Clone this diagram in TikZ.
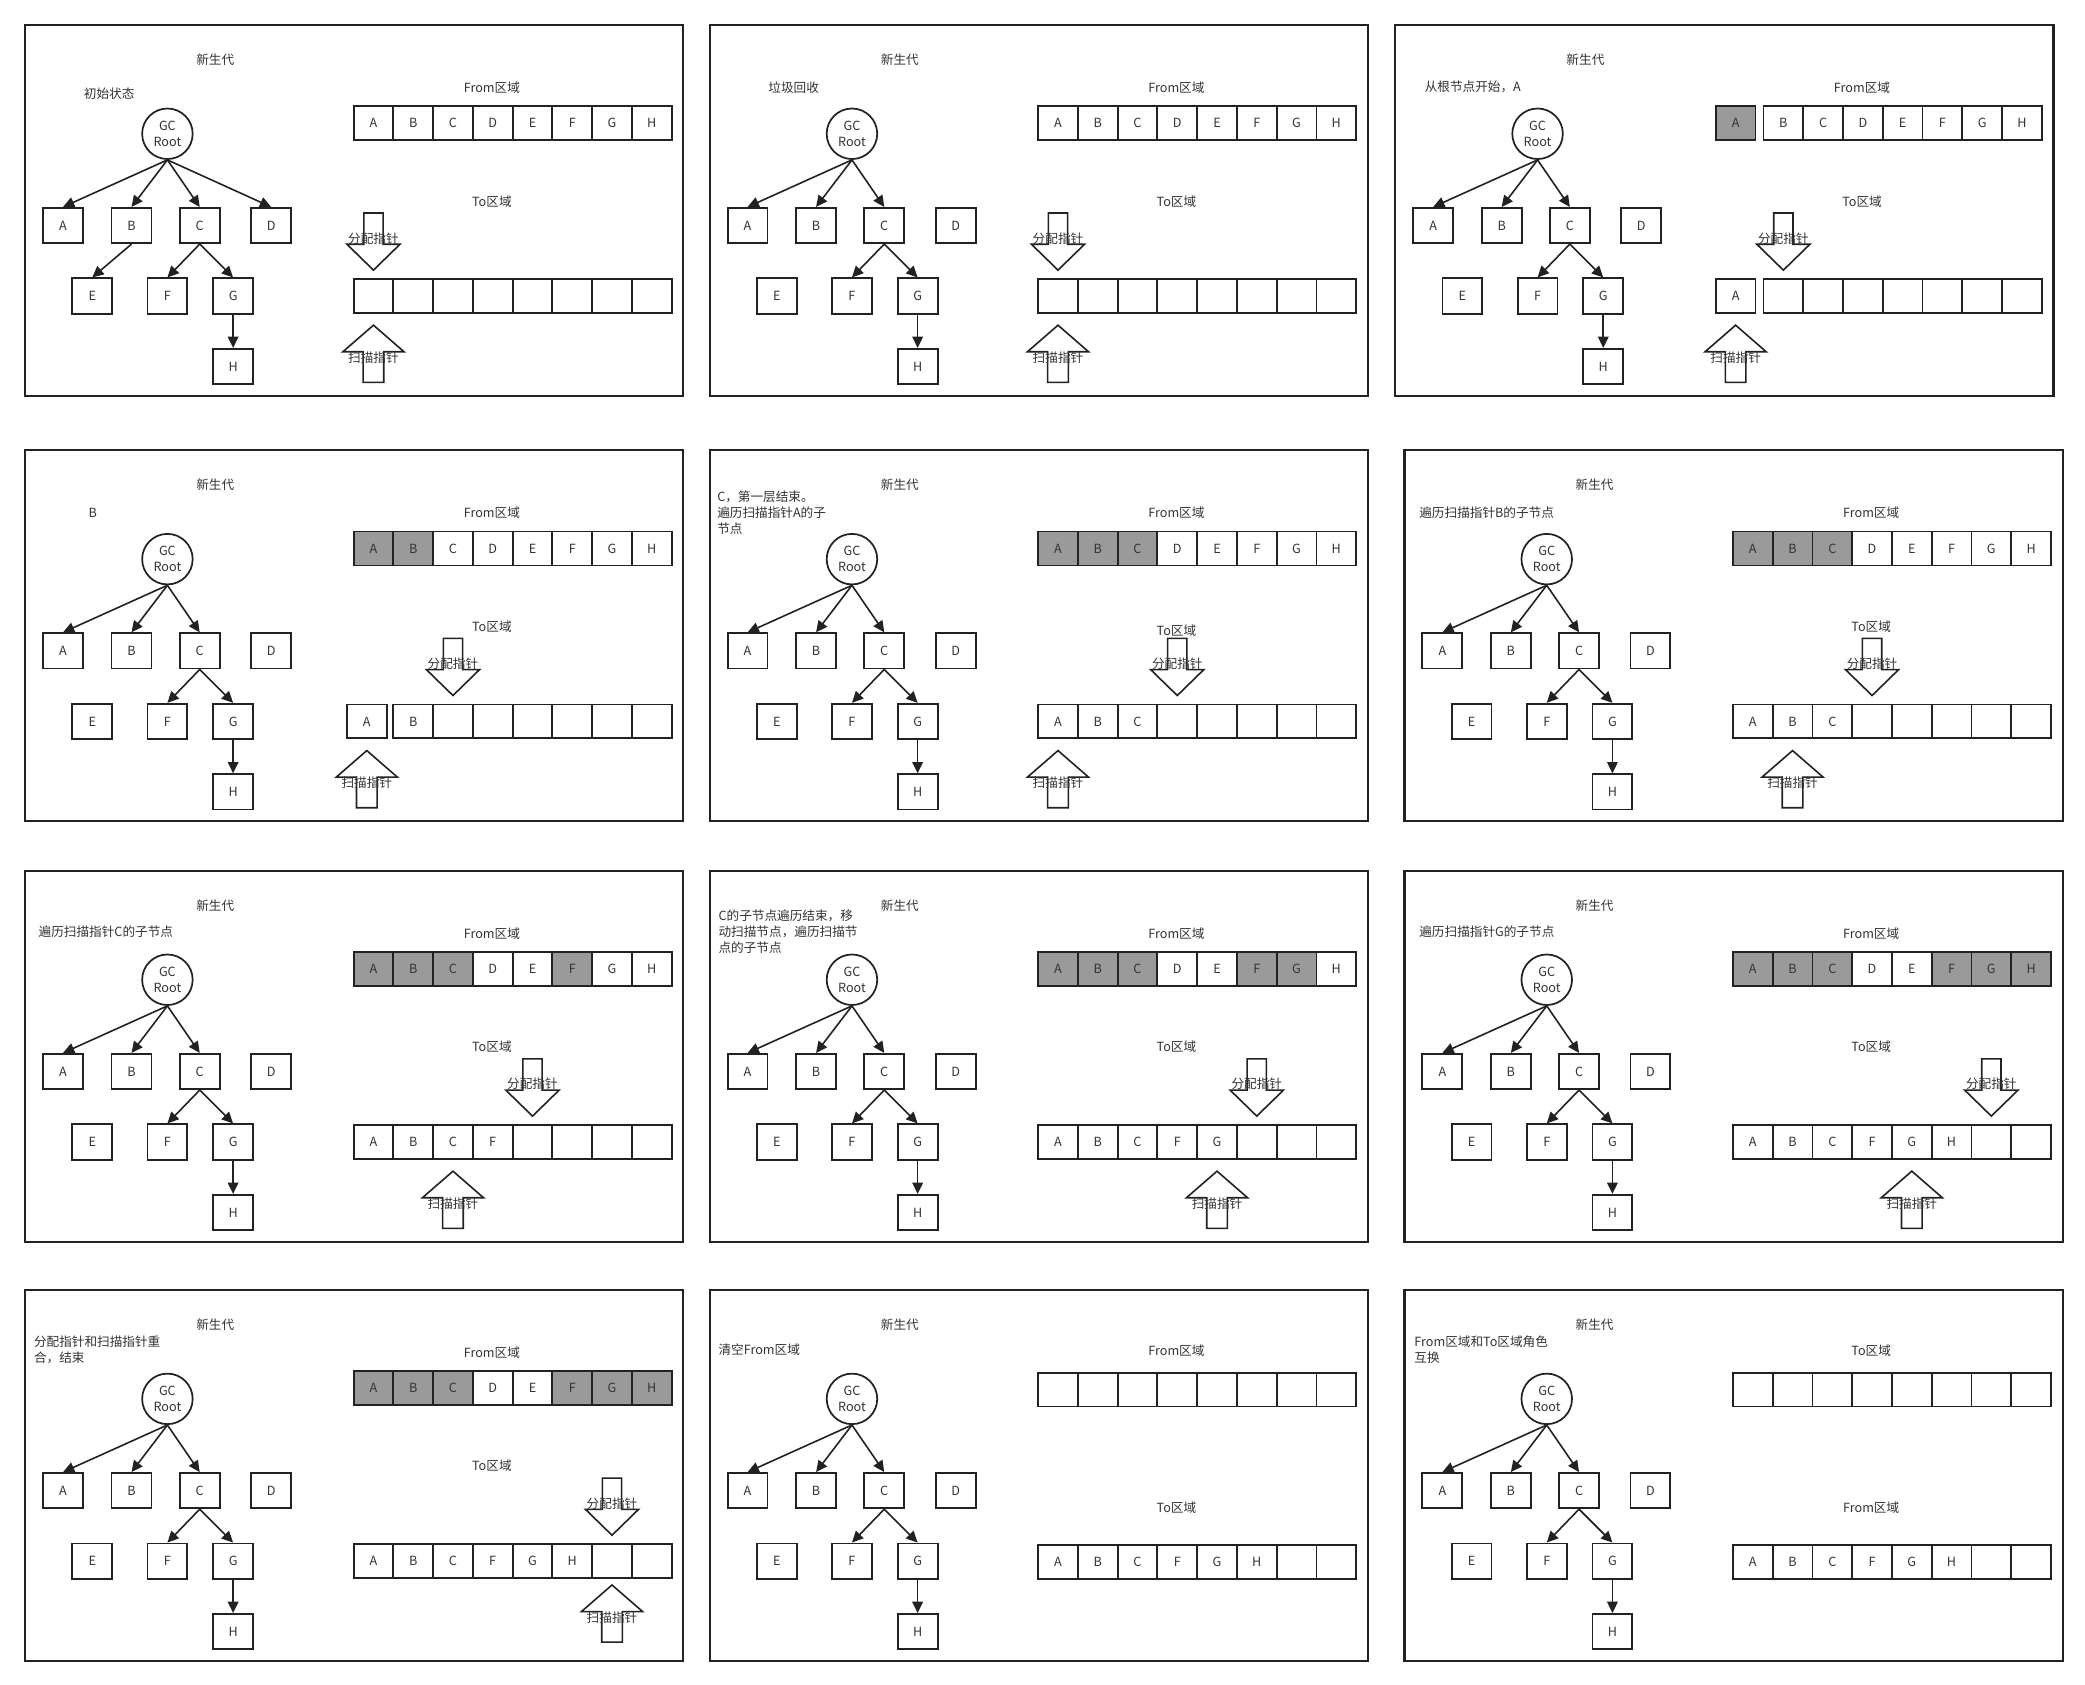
\documentclass[tikz,border=0pt]{standalone}
\usepackage{fontspec}
\setmainfont{Noto Sans CJK SC}
\usetikzlibrary{arrows.meta,positioning}

\definecolor{inkgray}{HTML}{333333}
\definecolor{framegray}{HTML}{222222}
\definecolor{livegray}{HTML}{9A9A9A}
\newcommand{\txtfont}{\fontsize{9.5}{12}\selectfont}

% 8 cells of one area: #1 name, #2 y, #3 label/fill, #4 gap before cell 2
\newcommand{\memrow}[4]{%
  \foreach \lab/\fil [count=\k] in {#3}
    \node[cell, cell\fil] (#1\k) at ({261.95+(\k-1)*29.9-(\k==1)*#4}, #2) {\lab};
}

% object graph
\newcommand{\gctree}[1]{%
  \node[root] (#1gc) at (107,82) {GC\\Root};
  \foreach \obj/\x/\y in {A/28.5/151, B/80/151, C/131.3/151, D/185/151,
                          E/50.5/204, F/107/204, G/156.4/204, H/156.4/257}
    \node[obj] (#1\obj) at (\x,\y) {\obj};
  \draw[link] (#1gc.south) -- (#1A.north);
  \draw[link] (#1gc.south) -- (#1B.north);
  \draw[link] (#1gc.south) -- (#1C.north);
  \draw[link] (#1C.south) -- (#1F.north);
  \draw[link] (#1C.south) -- (#1G.north);
  \draw[link] (#1G.south) -- (#1H.north);
}

\newcommand{\panelbase}[1]{%
  \draw[panelframe] (0,0) rectangle (495,279);
  \node[txt] (#1title) at (143,26) {新生代};
  \gctree{#1}
}

\tikzset{
  allocptr/.pic={
    \draw[ptr] (0,0) -- (-20,-19.5) -- (-7.25,-19.5) -- (-7.25,-43)
      -- (7.25,-43) -- (7.25,-19.5) -- (20,-19.5) -- cycle;
    \node[txt] (-text) at (0,-24) {分配指针};
  },
  scanptr/.pic={
    \draw[ptr] (0,0) -- (-23,20) -- (-7.75,20) -- (-7.75,43)
      -- (7.75,43) -- (7.75,20) -- (23,20) -- cycle;
    \node[txt] (-text) at (0,24.5) {扫描指针};
  }
}

\begin{document}
\begin{tikzpicture}[x=1pt, y=-1pt,
  panelframe/.style={draw=framegray, line width=1.7pt},
  txt/.style={inner sep=0pt, text=inkgray, font=\txtfont},
  obj/.style={draw=framegray, line width=1.4pt, fill=white, minimum width=30pt, minimum height=26.5pt, inner sep=0pt, text=inkgray, font=\txtfont},
  root/.style={draw=framegray, circle, line width=1.3pt, minimum size=38pt, inner sep=0pt, align=center, text=inkgray, font=\txtfont},
  cell/.style={draw=framegray, line width=1.4pt, minimum width=29.9pt, minimum height=25.5pt, inner sep=0pt, text=inkgray, font=\txtfont},
  cellg/.style={fill=livegray},
  cellw/.style={fill=white},
  link/.style={draw=framegray, line width=1.2pt, -{Triangle[length=8.5pt, width=8pt]}},
  ptr/.style={draw=framegray, line width=1.2pt}
]
\fill[white] (0,0) rectangle (1568,1267);
\useasboundingbox (0,0) rectangle (1568,1267);

% 初始状态
\begin{scope}[shift={(18.9,18.6)}]
  \panelbase{p1}
  \draw[link] (p1gc.south) -- (p1D.north);
  \draw[link] (p1B.south) -- (p1E.north);
  \node[txt, anchor=west] (p1note) at (44,52) {初始状态};
  \node[txt] (p1from) at (351,47) {From区域};
  \node[txt] (p1to) at (351,133) {To区域};
  \memrow{p1f}{74}{A/w,B/w,C/w,D/w,E/w,F/w,G/w,H/w}{0}
  \memrow{p1t}{204}{/w,/w,/w,/w,/w,/w,/w,/w}{0}
  \pic (p1alloc) at ([yshift=6pt]p1t1.north) {allocptr};
  \pic (p1scan) at ([yshift=-8.5pt]p1t1.south) {scanptr};
\end{scope}

% 垃圾回收
\begin{scope}[shift={(533.7,18.6)}]
  \panelbase{p2}
  \node[txt, anchor=west] (p2note) at (44,47) {垃圾回收};
  \node[txt] (p2from) at (351,47) {From区域};
  \node[txt] (p2to) at (351,133) {To区域};
  \memrow{p2f}{74}{A/w,B/w,C/w,D/w,E/w,F/w,G/w,H/w}{0}
  \memrow{p2t}{204}{/w,/w,/w,/w,/w,/w,/w,/w}{0}
  \pic (p2alloc) at ([yshift=6pt]p2t1.north) {allocptr};
  \pic (p2scan) at ([yshift=-8.5pt]p2t1.south) {scanptr};
\end{scope}

% 从根节点开始
\begin{scope}[shift={(1049.3,18.6)}]
  \panelbase{p3}
  \node[txt, anchor=west] (p3note) at (22,47) {从根节点开始，A};
  \node[txt] (p3from) at (351,47) {From区域};
  \node[txt] (p3to) at (351,133) {To区域};
  \memrow{p3f}{74}{A/g,B/w,C/w,D/w,E/w,F/w,G/w,H/w}{6}
  \memrow{p3t}{204}{A/w,/w,/w,/w,/w,/w,/w,/w}{6}
  \pic (p3alloc) at ([yshift=6pt]p3t2.north) {allocptr};
  \pic (p3scan) at ([yshift=-8.5pt]p3t1.south) {scanptr};
\end{scope}

% B
\begin{scope}[shift={(18.9,338.5)}]
  \panelbase{p4}
  \node[txt, anchor=west] (p4note) at (47.5,47.5) {B};
  \node[txt] (p4from) at (351,47) {From区域};
  \node[txt] (p4to) at (351,133) {To区域};
  \memrow{p4f}{74}{A/g,B/g,C/w,D/w,E/w,F/w,G/w,H/w}{0}
  \memrow{p4t}{204}{A/w,B/w,/w,/w,/w,/w,/w,/w}{5}
  \pic (p4alloc) at ([yshift=6pt]p4t3.north) {allocptr};
  \pic (p4scan) at ([yshift=-8.5pt]p4t1.south) {scanptr};
\end{scope}

% 第一层结束
\begin{scope}[shift={(533.7,338.5)}]
  \panelbase{p5}
  \node[txt, anchor=west, align=left] (p5note) at (5.5,47) {C，第一层结束。\\遍历扫描指针A的子\\节点};
  \node[txt] (p5from) at (351,47) {From区域};
  \node[txt] (p5to) at (351,136) {To区域};
  \memrow{p5f}{74}{A/g,B/g,C/g,D/w,E/w,F/w,G/w,H/w}{0}
  \memrow{p5t}{204}{A/w,B/w,C/w,/w,/w,/w,/w,/w}{0}
  \pic (p5alloc) at ([yshift=6pt]p5t4.north) {allocptr};
  \pic (p5scan) at ([yshift=-8.5pt]p5t1.south) {scanptr};
\end{scope}

% B的子节点
\begin{scope}[shift={(1056.2,338.5)}]
  \panelbase{p6}
  \node[txt, anchor=west] (p6note) at (11,47) {遍历扫描指针B的子节点};
  \node[txt] (p6from) at (351,47) {From区域};
  \node[txt] (p6to) at (351,133) {To区域};
  \memrow{p6f}{74}{A/g,B/g,C/g,D/w,E/w,F/w,G/w,H/w}{0}
  \memrow{p6t}{204}{A/w,B/w,C/w,/w,/w,/w,/w,/w}{0}
  \pic (p6alloc) at ([yshift=6pt]p6t4.north) {allocptr};
  \pic (p6scan) at ([yshift=-8.5pt]p6t2.south) {scanptr};
\end{scope}

% C的子节点
\begin{scope}[shift={(18.9,654.8)}]
  \panelbase{p7}
  \node[txt, anchor=west] (p7note) at (10,45.5) {遍历扫描指针C的子节点};
  \node[txt] (p7from) at (351,47) {From区域};
  \node[txt] (p7to) at (351,132) {To区域};
  \memrow{p7f}{74}{A/g,B/g,C/g,D/w,E/w,F/g,G/w,H/w}{0}
  \memrow{p7t}{204}{A/w,B/w,C/w,F/w,/w,/w,/w,/w}{0}
  \pic (p7alloc) at ([yshift=6pt]p7t5.north) {allocptr};
  \pic (p7scan) at ([yshift=-8.5pt]p7t3.south) {scanptr};
\end{scope}

% 移动扫描节点
\begin{scope}[shift={(533.7,654.8)}]
  \panelbase{p8}
  \node[txt, anchor=west, align=left] (p8note) at (6.5,46) {C的子节点遍历结束，移\\动扫描节点，遍历扫描节\\点的子节点};
  \node[txt] (p8from) at (351,47) {From区域};
  \node[txt] (p8to) at (351,132) {To区域};
  \memrow{p8f}{74}{A/g,B/g,C/g,D/w,E/w,F/g,G/g,H/w}{0}
  \memrow{p8t}{204}{A/w,B/w,C/w,F/w,G/w,/w,/w,/w}{0}
  \pic (p8alloc) at ([yshift=6pt]p8t6.north) {allocptr};
  \pic (p8scan) at ([yshift=-8.5pt]p8t5.south) {scanptr};
\end{scope}

% G的子节点
\begin{scope}[shift={(1056.2,654.8)}]
  \panelbase{p9}
  \node[txt, anchor=west] (p9note) at (11,46) {遍历扫描指针G的子节点};
  \node[txt] (p9from) at (351,47) {From区域};
  \node[txt] (p9to) at (351,132) {To区域};
  \memrow{p9f}{74}{A/g,B/g,C/g,D/w,E/w,F/g,G/g,H/g}{0}
  \memrow{p9t}{204}{A/w,B/w,C/w,F/w,G/w,H/w,/w,/w}{0}
  \pic (p9alloc) at ([yshift=6pt]p9t7.north) {allocptr};
  \pic (p9scan) at ([yshift=-8.5pt]p9t5.south) {scanptr};
\end{scope}

% 指针重合
\begin{scope}[shift={(18.9,970)}]
  \panelbase{p10}
  \node[txt, anchor=west, align=left] (p10note) at (6.5,45) {分配指针和扫描指针重\\合，结束};
  \node[txt] (p10from) at (351,47) {From区域};
  \node[txt] (p10to) at (351,132) {To区域};
  \memrow{p10f}{74}{A/g,B/g,C/g,D/w,E/w,F/g,G/g,H/g}{0}
  \memrow{p10t}{204}{A/w,B/w,C/w,F/w,G/w,H/w,/w,/w}{0}
  \pic (p10alloc) at ([yshift=6pt]p10t7.north) {allocptr};
  \pic (p10scan) at ([yshift=-4.5pt]p10t7.south) {scanptr};
\end{scope}

% 清空From区域
\begin{scope}[shift={(533.7,970)}]
  \panelbase{p11}
  \node[txt, anchor=west] (p11note) at (6.5,45) {清空From区域};
  \node[txt] (p11from) at (351,45.5) {From区域};
  \node[txt] (p11to) at (351,164) {To区域};
  \memrow{p11f}{75}{/w,/w,/w,/w,/w,/w,/w,/w}{0}
  \memrow{p11t}{204.5}{A/w,B/w,C/w,F/w,G/w,H/w,/w,/w}{0}
\end{scope}

% 角色互换
\begin{scope}[shift={(1056.2,970)}]
  \panelbase{p12}
  \node[txt, anchor=west, align=left] (p12note) at (7.3,45) {From区域和To区域角色\\互换};
  \node[txt] (p12to) at (351,45.5) {To区域};
  \node[txt] (p12from) at (351,164) {From区域};
  \memrow{p12t}{75}{/w,/w,/w,/w,/w,/w,/w,/w}{0}
  \memrow{p12f}{204.5}{A/w,B/w,C/w,F/w,G/w,H/w,/w,/w}{0}
\end{scope}

\end{tikzpicture}
\end{document}
